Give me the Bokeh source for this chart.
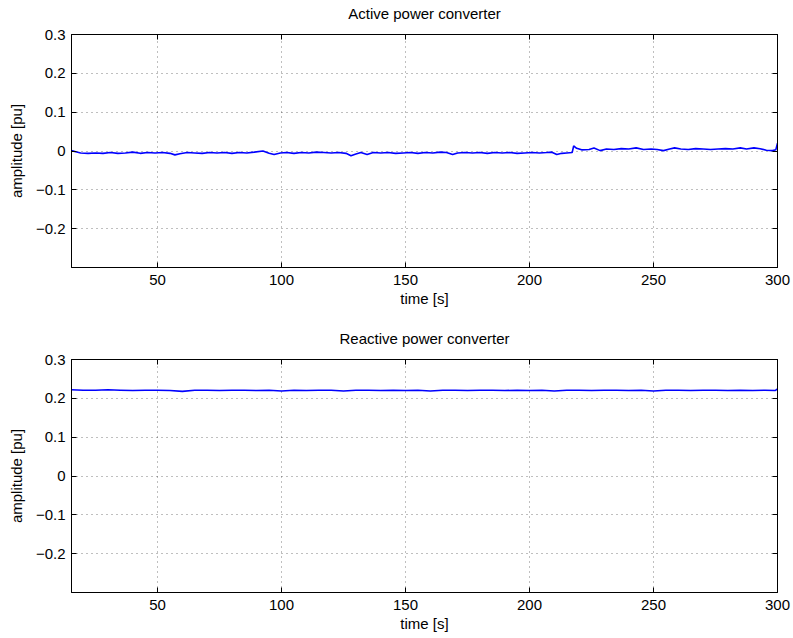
from bokeh.plotting import figure
from bokeh.layouts import column
from bokeh.models import Range1d, FixedTicker, LinearAxis
from bokeh.embed import file_html
from bokeh.resources import INLINE

# ---- data ----
x_ticks = [50, 100, 150, 200, 250, 300]
y_ticks = [-0.2, -0.1, 0.0, 0.1, 0.2, 0.3]

active_t = [15.3, 17, 19, 22, 25, 28, 31, 34, 37, 40, 43, 46, 49, 52, 55, 57, 59, 62, 65, 68,
            71, 74, 77, 80, 83, 86, 89, 92.5, 95, 97, 99.5, 102, 105, 108, 111, 114, 117, 120,
            123, 126, 128, 130, 132, 134.5, 137, 140, 143, 146, 149, 152, 155, 158, 161, 164,
            166.5, 169, 171, 174, 177, 180, 183, 186, 189, 192, 195, 198, 201, 204, 207, 209,
            211, 213, 215, 217.2, 217.8, 219, 221, 224, 226, 228.5, 231, 234, 237, 240, 243,
            246, 249, 251.5, 254, 256.5, 258.5, 261, 264, 267, 270, 273, 276, 279, 282, 285,
            287.5, 290.5, 293, 295.5, 298, 299.3, 300]
active_v = [0.001, -0.002, -0.005, -0.006, -0.005, -0.006, -0.004, -0.006, -0.005, -0.003,
            -0.006, -0.004, -0.005, -0.004, -0.006, -0.010, -0.007, -0.004, -0.005, -0.006,
            -0.004, -0.005, -0.004, -0.006, -0.004, -0.005, -0.003, 0.000, -0.006, -0.009,
            -0.005, -0.004, -0.006, -0.004, -0.005, -0.003, -0.004, -0.005, -0.004, -0.006,
            -0.012, -0.008, -0.004, -0.009, -0.004, -0.005, -0.004, -0.006, -0.005, -0.004,
            -0.006, -0.004, -0.005, -0.003, -0.004, -0.009, -0.005, -0.004, -0.005, -0.004,
            -0.006, -0.004, -0.005, -0.004, -0.006, -0.005, -0.004, -0.005, -0.004, -0.003,
            -0.009, -0.006, -0.005, -0.004, 0.013, 0.007, 0.003, 0.004, 0.008, 0.001, 0.005,
            0.004, 0.006, 0.005, 0.008, 0.004, 0.005, 0.004, 0.001, 0.005, 0.008, 0.005, 0.004,
            0.006, 0.005, 0.004, 0.005, 0.006, 0.005, 0.008, 0.005, 0.008, 0.006, 0.002, 0.001,
            0.003, 0.020]

reactive_t = [15.3, 20, 25, 30, 35, 40, 45, 50, 55, 60, 65, 70, 75, 80, 85, 90, 95, 100, 105,
              110, 115, 120, 125, 130, 135, 140, 145, 150, 155, 160, 165, 170, 175, 180, 185,
              190, 195, 200, 205, 210, 215, 220, 225, 230, 235, 240, 245, 250, 255, 260, 265,
              270, 275, 280, 285, 290, 295, 299, 300]
reactive_v = [0.222, 0.221, 0.221, 0.222, 0.221, 0.220, 0.221, 0.221, 0.220, 0.218, 0.221,
              0.221, 0.220, 0.221, 0.221, 0.220, 0.221, 0.219, 0.221, 0.220, 0.221, 0.221,
              0.219, 0.221, 0.221, 0.220, 0.221, 0.220, 0.221, 0.219, 0.221, 0.221, 0.220,
              0.221, 0.221, 0.220, 0.221, 0.220, 0.221, 0.219, 0.221, 0.221, 0.220, 0.221,
              0.221, 0.220, 0.221, 0.219, 0.221, 0.221, 0.220, 0.221, 0.221, 0.220, 0.221,
              0.220, 0.221, 0.220, 0.224]

FONT = "Liberation Sans"
FS = "15px"
W = 793


def style_axis(ax, labels=True):
    ax.major_tick_in = 5
    ax.major_tick_out = 0
    ax.minor_tick_line_color = None
    ax.axis_line_color = "black"
    ax.major_tick_line_color = "black"
    ax.major_label_text_font = FONT
    ax.major_label_text_color = "black"
    ax.axis_label_text_font = FONT
    ax.axis_label_text_font_size = FS
    ax.axis_label_text_font_style = "normal"
    ax.axis_label_text_color = "black"
    if labels:
        ax.major_label_text_font_size = FS
    else:
        ax.major_label_text_font_size = "0px"
        ax.major_label_standoff = 0
        ax.major_label_text_alpha = 0


def make_panel(title, t, v, border_top, border_bottom, height, title_gap):
    p = figure(width=W, height=height, output_backend="svg", toolbar_location=None,
               x_range=Range1d(15.3, 300), y_range=Range1d(-0.3, 0.3),
               min_border_left=71, min_border_right=16,
               min_border_top=border_top, min_border_bottom=border_bottom)

    p.line(t, v, line_color="#0000ff", line_width=1.6)

    p.xaxis.ticker = FixedTicker(ticks=x_ticks)
    p.yaxis.ticker = FixedTicker(ticks=y_ticks)
    p.xaxis.axis_label = "time [s]"
    p.yaxis.axis_label = "amplitude [pu]"
    for ax in (p.xaxis[0], p.yaxis[0]):
        style_axis(ax)
    p.xaxis.major_label_standoff = 7
    p.xaxis.axis_label_standoff = 2
    p.yaxis.major_label_standoff = 6
    p.yaxis.axis_label_standoff = 8
    p.yaxis.formatter.use_scientific = False

    # box ticks on top and right; the top axis carries the panel title
    top = LinearAxis(ticker=FixedTicker(ticks=x_ticks))
    right = LinearAxis(ticker=FixedTicker(ticks=y_ticks))
    style_axis(top, labels=False)
    style_axis(right, labels=False)
    top.axis_label = title
    top.axis_label_standoff = title_gap
    p.add_layout(top, "above")
    p.add_layout(right, "right")

    p.xgrid.ticker = FixedTicker(ticks=x_ticks)
    p.ygrid.ticker = FixedTicker(ticks=y_ticks)
    for g in (p.xgrid[0], p.ygrid[0]):
        g.grid_line_color = "#000000"
        g.grid_line_alpha = 0.5
        g.grid_line_dash = "1 4"
        g.grid_line_width = 1

    p.outline_line_color = "black"
    p.outline_line_width = 1
    p.outline_line_alpha = 1.0
    p.background_fill_color = "white"
    p.border_fill_color = "white"
    return p


p1 = make_panel("Active power converter", active_t, active_v, 34, 52, 319, 13)
p2 = make_panel("Reactive power converter", reactive_t, reactive_v, 40, 46, 319, 13)

layout = column(p1, p2, spacing=0)
open("out.html", "w").write(file_html(layout, INLINE))
